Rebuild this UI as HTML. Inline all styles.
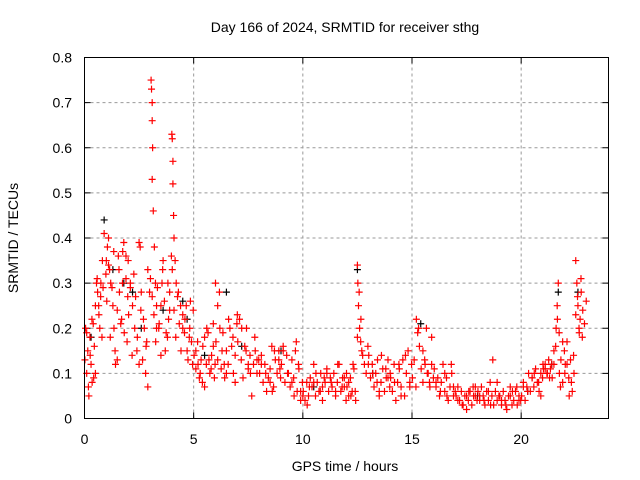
<!DOCTYPE html>
<html><head><meta charset="utf-8"><style>
body{margin:0;background:#fff;}
svg{display:block;font-family:"Liberation Sans",sans-serif;}
</style></head><body>
<svg id="chart" width="640" height="480">
<text x="345" y="32" font-size="14" text-anchor="middle">Day 166 of 2024, SRMTID for receiver sthg</text>
<g id="grid"></g><g id="axes"></g><g id="black"></g><g id="red"></g>
<rect x="84.5" y="57.5" width="524" height="361" fill="none" stroke="#000"/>
<text x="345" y="471" font-size="14" text-anchor="middle">GPS time / hours</text>
<text transform="translate(18,238) rotate(-90)" font-size="14" text-anchor="middle">SRMTID / TECUs</text>
</svg>
<script>
const xTicks=[0,5,10,15,20];
const yTicks=[0,0.1,0.2,0.3,0.4,0.5,0.6,0.7,0.8];
const redTimes=[0.05,0.1,0.15,0.2,0.25,0.3,0.35,0.4,0.45,0.5,
0.55,0.6,0.65,0.7,0.75,0.8,0.85,
1.0,1.05,1.1,1.15,1.2,1.3,1.35,1.4,1.5,1.55,1.6,1.7,1.75,1.8,1.9,1.95,
2.0,2.1,2.2,2.3,2.4,2.5,2.55,2.6,2.7,2.8,2.85,2.9,
3.05,3.07,3.1,3.1,3.12,3.1,3.15,3.2,3.25,3.3,3.3,
3.4,3.5,3.55,3.6,3.7,3.8,3.85,3.9,
4.0,4.02,4.05,4.05,4.08,4.1,4.15,4.2,
4.3,4.4,4.5,4.6,4.7,4.8,4.85,4.95,
5.1,5.2,5.3,5.4,5.5,5.6,5.7,5.8,5.9,5.95,
6.0,6.1,6.2,6.3,6.4,6.5,6.6,6.8,6.9,
7.0,7.2,7.4,7.5,7.6,7.8,7.9,
8.1,8.3,8.5,8.6,8.7,8.9,8.95,
9.1,9.3,9.5,9.6,9.7,9.8,9.9,
10.0,10.2,10.3,10.5,10.6,10.8,10.9,
11.1,11.3,11.5,11.6,11.8,11.9,
12.0,12.1,12.2,12.3,12.4,
12.5,12.52,12.55,12.6,12.65,12.7,
13.0,13.2,13.4,13.5,13.6,13.8,13.9,
14.0,14.2,14.4,14.5,14.7,14.9,
15.2,15.3,15.5,15.6,15.7,15.8,15.9,
16.1,16.3,16.5,16.6,16.8,16.9,
17.1,17.3,17.5,17.6,17.8,17.9,
18.1,18.3,18.5,18.6,18.7,18.9,
19.1,19.3,19.5,19.6,19.8,19.9,
20.1,20.3,20.5,20.6,20.8,20.9,
21.0,21.1,21.2,21.3,21.4,
21.5,21.6,21.65,21.7,21.75,21.8,21.9,
22.0,22.1,22.2,22.3,22.4,
22.5,22.55,22.6,22.65,22.7,22.75,22.8];
const redValues=[0.2,0.1,0.15,0.05,0.18,0.12,0.08,0.21,0.16,0.1,
0.3,0.28,0.25,0.2,0.3,0.18,0.29,
0.35,0.38,0.4,0.33,0.3,0.25,0.2,0.15,0.13,0.36,0.28,0.22,0.37,0.39,0.31,0.17,
0.35,0.3,0.25,0.2,0.15,0.12,0.38,0.28,0.22,0.1,0.17,0.33,
0.75,0.73,0.7,0.66,0.6,0.53,0.46,0.38,0.3,0.25,0.2,
0.2,0.25,0.3,0.35,0.15,0.18,0.22,0.28,
0.63,0.62,0.57,0.52,0.45,0.4,0.35,0.3,
0.28,0.25,0.2,0.22,0.15,0.18,0.26,0.12,
0.15,0.12,0.1,0.08,0.18,0.2,0.13,0.11,0.16,0.09,
0.3,0.25,0.2,0.15,0.12,0.1,0.22,0.18,0.08,
0.23,0.2,0.15,0.12,0.1,0.18,0.13,
0.12,0.1,0.08,0.06,0.15,0.13,0.11,
0.15,0.1,0.08,0.05,0.17,0.12,0.06,
0.05,0.03,0.07,0.08,0.1,0.06,0.04,
0.1,0.08,0.06,0.12,0.07,0.09,
0.1,0.08,0.05,0.12,0.06,
0.34,0.3,0.25,0.2,0.17,0.15,
0.12,0.1,0.08,0.06,0.14,0.11,0.09,
0.1,0.08,0.12,0.05,0.14,0.07,
0.22,0.2,0.15,0.12,0.1,0.08,0.18,
0.08,0.06,0.1,0.05,0.12,0.07,
0.04,0.03,0.05,0.06,0.07,0.05,
0.05,0.04,0.06,0.03,0.13,0.08,
0.04,0.03,0.05,0.06,0.07,0.04,
0.07,0.06,0.09,0.1,0.08,0.05,
0.12,0.11,0.1,0.09,0.12,
0.15,0.2,0.25,0.3,0.1,0.07,0.17,
0.1,0.12,0.05,0.08,0.14,
0.35,0.3,0.25,0.2,0.22,0.28,0.18];
// regularly sampled series: one row per hour, 13 samples at hour+0.02+k*0.08
const denseHours=[0,1,2,3,4,5,6,7,8,9,10,11,12,13,14,15,16,17,18,19,20,21,22];
const denseValues=[
[0.13,0.19,0.07,0.14,0.22,0.09,0.25,0.31,0.23,0.27,0.35,0.41,0.32],
[0.26,0.34,0.18,0.29,0.37,0.12,0.24,0.33,0.21,0.3,0.19,0.36,0.27],
[0.23,0.29,0.14,0.32,0.27,0.18,0.39,0.24,0.13,0.2,0.16,0.07,0.28],
[0.31,0.27,0.23,0.17,0.29,0.21,0.14,0.33,0.26,0.19,0.3,0.24,0.36],
[0.33,0.24,0.18,0.27,0.21,0.15,0.23,0.19,0.25,0.13,0.2,0.17,0.24],
[0.14,0.11,0.17,0.09,0.13,0.16,0.07,0.12,0.19,0.1,0.14,0.21,0.12],
[0.17,0.13,0.28,0.11,0.19,0.09,0.15,0.12,0.2,0.16,0.1,0.14,0.21],
[0.17,0.22,0.13,0.09,0.16,0.2,0.11,0.14,0.05,0.12,0.15,0.1,0.13],
[0.1,0.14,0.08,0.12,0.06,0.09,0.11,0.16,0.07,0.13,0.1,0.15,0.09],
[0.12,0.16,0.08,0.14,0.1,0.07,0.13,0.09,0.15,0.06,0.11,0.04,0.08],
[0.06,0.04,0.08,0.05,0.09,0.07,0.12,0.05,0.08,0.06,0.1,0.07,0.09],
[0.08,0.11,0.06,0.09,0.07,0.1,0.05,0.08,0.12,0.06,0.09,0.07,0.04],
[0.07,0.05,0.09,0.06,0.11,0.04,0.18,0.28,0.22,0.14,0.12,0.1,0.16],
[0.14,0.09,0.12,0.07,0.1,0.13,0.05,0.08,0.11,0.06,0.09,0.13,0.07],
[0.09,0.06,0.12,0.04,0.08,0.11,0.07,0.13,0.05,0.1,0.15,0.08,0.12],
[0.09,0.13,0.07,0.19,0.16,0.11,0.08,0.13,0.2,0.1,0.07,0.12,0.09],
[0.11,0.07,0.09,0.05,0.08,0.12,0.06,0.09,0.04,0.07,0.1,0.05,0.06],
[0.05,0.07,0.04,0.06,0.03,0.05,0.02,0.04,0.06,0.03,0.05,0.07,0.04],
[0.06,0.04,0.07,0.05,0.03,0.06,0.04,0.08,0.05,0.03,0.06,0.04,0.05],
[0.05,0.03,0.06,0.04,0.02,0.05,0.07,0.03,0.04,0.06,0.03,0.05,0.04],
[0.05,0.08,0.04,0.07,0.1,0.06,0.09,0.07,0.11,0.08,0.06,0.1,0.09],
[0.11,0.12,0.1,0.13,0.11,0.09,0.12,0.16,0.22,0.19,0.13,0.08,0.15],
[0.12,0.17,0.09,0.13,0.06,0.1,0.23,0.27,0.19,0.31,0.24,0.21,0.26]];
const blackTimes=[0.9,1.3,2.2,3.6,4.5,6.5,9.0,12.5,15.4,21.7,22.6,0.3,1.8,2.6,4.7,5.5,7.2,10.5,13.2,18.0,20.3,21.4];
const blackValues=[0.44,0.33,0.28,0.24,0.26,0.28,0.15,0.33,0.21,0.28,0.28,0.18,0.3,0.2,0.22,0.14,0.16,0.07,0.1,0.05,0.06,0.12];

const X0=84.5,X1=608.5,Y0=418.5,Y1=57.5;
const xs=t=>X0+(t/24)*(X1-X0);
const ys=v=>Y0-(v/0.8)*(Y0-Y1);
const NS="http://www.w3.org/2000/svg";
const grid=document.getElementById('grid'),axes=document.getElementById('axes');
function mk(tag,attrs,parent){const e=document.createElementNS(NS,tag);for(const k in attrs)e.setAttribute(k,attrs[k]);parent.appendChild(e);return e;}
xTicks.forEach(t=>{
  const x=xs(t);
  if(t>0){const g=mk('line',{x1:x,x2:x,y1:Y0,y2:Y1,stroke:'#999','stroke-dasharray':'3,3'},grid);
  
  }
  const lb=mk('text',{x:x,y:444,'font-size':14,'text-anchor':'middle'},axes);lb.textContent=t;
  
  
  mk('line',{x1:x,x2:x,y1:Y0,y2:Y0-6,stroke:'#000'},axes);
  mk('line',{x1:x,x2:x,y1:Y1,y2:Y1+6,stroke:'#000'},axes);
});
yTicks.forEach(v=>{
  const y=ys(v);
  if(v>0&&v<0.8){const g=mk('line',{x1:X0,x2:X1,y1:y,y2:y,stroke:'#999','stroke-dasharray':'3,3'},grid);
  
  }
  const lb=mk('text',{x:72,y:y+5,'font-size':14,'text-anchor':'end'},axes);lb.textContent=v===0?'0':v.toFixed(1);
  
  
  mk('line',{x1:X0,x2:X0+6,y1:y,y2:y,stroke:'#000'},axes);
  mk('line',{x1:X1,x2:X1-6,y1:y,y2:y,stroke:'#000'},axes);
});
function plus(g,t,v,c,name){
  const x=xs(t),y=ys(v);
  const p=mk('path',{d:`M${x-3.5},${y}H${x+3.5}M${x},${y-3.5}V${y+3.5}`,stroke:c,'stroke-width':1.2,fill:'none'},g);
  
  
}
const bg=document.getElementById('black'),rg=document.getElementById('red');
blackTimes.forEach((t,i)=>plus(bg,t,blackValues[i],'#000','black-point'));
redTimes.forEach((t,i)=>plus(rg,t,redValues[i],'#f00','red-point'));
denseHours.forEach((h,r)=>denseValues[r].forEach((v,k)=>plus(rg,h+0.02+k*0.08,v,'#f00','red-point')));
</script>
</body></html>
